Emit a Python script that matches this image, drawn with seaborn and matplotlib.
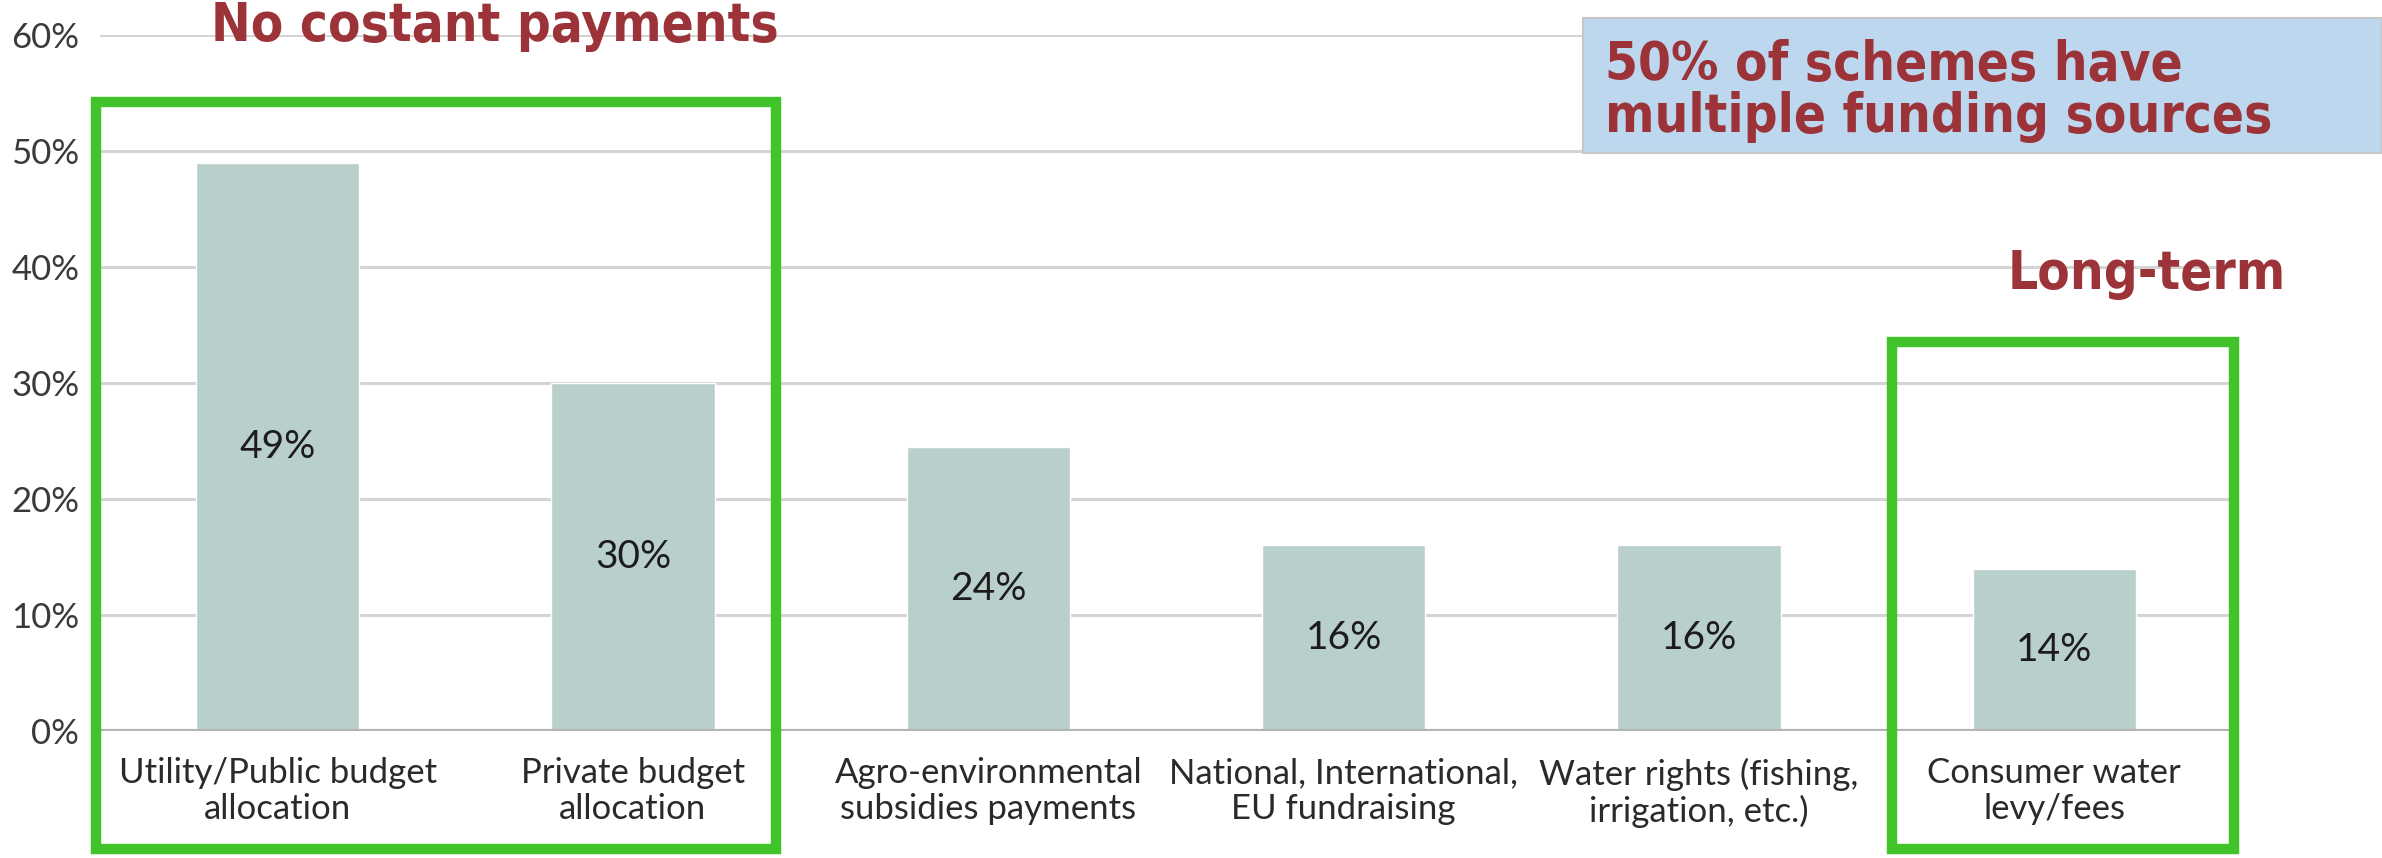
import matplotlib
matplotlib.use("Agg")
import matplotlib.pyplot as plt
from matplotlib.patches import Rectangle
import seaborn as sns

# data
categories = [
    "Utility/Public budget\nallocation",
    "Private budget\nallocation",
    "Agro-environmental\nsubsidies payments",
    "National, International,\nEU fundraising",
    "Water rights (fishing,\nirrigation, etc.)",
    "Consumer water\nlevy/fees",
]
values = [49, 30, 24.5, 16, 16, 14]
value_labels = ["49%", "30%", "24%", "16%", "16%", "14%"]
y_ticks = [0, 10, 20, 30, 40, 50, 60]
y_tick_labels = ["0%", "10%", "20%", "30%", "40%", "50%", "60%"]

bar_color = "#b9cfcc"
red = "#9b3338"
green = "#40c42a"

sns.set_style("white")
plt.rcParams["font.family"] = ["Lato", "DejaVu Sans"]

W, H = 2382, 858
fig = plt.figure(figsize=(W / 100, H / 100), dpi=100)
ax = fig.add_axes([100 / W, 1 - 731 / H, 2132 / W, (731 - 35) / H])

sns.barplot(x=categories, y=values, color=bar_color, width=0.46,
            saturation=1, ax=ax)

ax.set_xlim(-0.5, 5.5)
ax.set_ylim(0, 60)
ax.set_yticks(y_ticks)
ax.set_yticklabels(y_tick_labels, fontsize=25, color="#3a3a3a")
ax.tick_params(axis="y", length=0, pad=15)
ax.tick_params(axis="x", length=0, pad=19, labelsize=25, labelcolor="#2a2a2a")
plt.setp(ax.get_xticklabels(), linespacing=1.15)
ax.set_xlabel("")
ax.set_ylabel("")

ax.yaxis.grid(True, color="#d4d4d4", lw=2.2)
ax.set_axisbelow(True)
ax.axhline(0, color="#b4b4b4", lw=3, zorder=1)
sns.despine(ax=ax, left=True, bottom=True)

# percentage labels in the middle of each bar
for i, (v, lab) in enumerate(zip(values, value_labels)):
    ax.text(i, v / 2, lab, ha="center", va="center", fontsize=28, color="#1c1c1c")

# annotation texts
title_kw = dict(fontsize=38, fontweight="bold", color=red,
                family="DejaVu Sans", fontstretch="condensed")
fig.text(495 / W, 1 - 41 / H, "No costant payments", ha="center", va="baseline", **title_kw)

fig.patches.append(Rectangle((1583 / W, 1 - 153 / H), 1 - 1583 / W, 135 / H,
                             transform=fig.transFigure, facecolor="#bdd7ee",
                             edgecolor="#c6c6c6", lw=1.5, zorder=2))
fig.text(1605 / W, 1 - 80 / H, "50% of schemes have", ha="left", va="baseline", zorder=3, **title_kw)
fig.text(1605 / W, 1 - 132 / H, "multiple funding sources", ha="left", va="baseline", zorder=3, **title_kw)
fig.text(2147 / W, 1 - 289 / H, "Long-term", ha="center", va="baseline", **title_kw)

# green highlight boxes
for x0, y0, x1, y1 in [(96, 102, 776, 849), (1892, 342, 2234, 849)]:
    fig.patches.append(Rectangle((x0 / W, 1 - y1 / H), (x1 - x0) / W, (y1 - y0) / H,
                                 transform=fig.transFigure, fill=False,
                                 edgecolor=green, lw=7.5, zorder=4))

fig.savefig("out.png", dpi=100)
